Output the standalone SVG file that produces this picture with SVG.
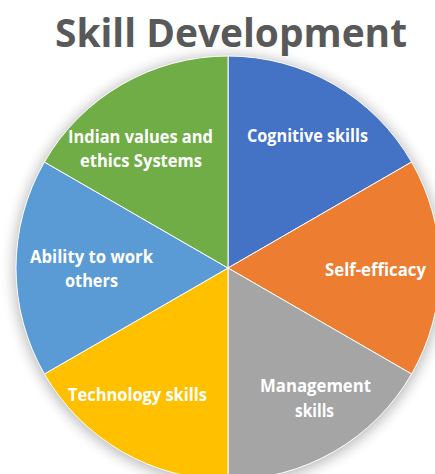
<svg xmlns="http://www.w3.org/2000/svg" width="435" height="474" viewBox="0 0 435 474">
  <defs>
    <filter id="glow" x="-20%" y="-20%" width="140%" height="140%">
      <feGaussianBlur stdDeviation="7"/>
    </filter>
    <style>
      .title { font-family: "Open Sans", "Liberation Sans", sans-serif; font-weight: bold; font-size: 40px; fill: #595959; }
      .lbl { font-family: "Open Sans", "Liberation Sans", sans-serif; font-weight: bold; font-size: 17.5px; fill: #ffffff; text-anchor: middle; }
      .slice { stroke: #ffffff; stroke-width: 1; }
    </style>
  </defs>
  <rect x="0" y="0" width="435" height="474" fill="#ffffff"/>
  <text class="title" x="55" y="47" textLength="352" lengthAdjust="spacingAndGlyphs">Skill Development</text>
  <circle cx="228" cy="270" r="214" fill="#000000" opacity="0.28" filter="url(#glow)"/>
  <g id="node-cognitive">
    <path class="slice" fill="#4472C4" d="M228,268 L228,56 A212,212 0 0 1 411.6,162 Z"/>
    <text class="lbl" x="307.5" y="142" textLength="121" lengthAdjust="spacingAndGlyphs">Cognitive skills</text>
  </g>
  <g id="node-selfefficacy">
    <path class="slice" fill="#ED7D31" d="M228,268 L411.6,162 A212,212 0 0 1 411.6,374 Z"/>
    <text class="lbl" x="375.5" y="276" textLength="101" lengthAdjust="spacingAndGlyphs">Self-efficacy</text>
  </g>
  <g id="node-management">
    <path class="slice" fill="#A5A5A5" d="M228,268 L411.6,374 A212,212 0 0 1 228,480 Z"/>
    <text class="lbl" x="315.5" y="392" textLength="111" lengthAdjust="spacingAndGlyphs">Management</text>
    <text class="lbl" x="314.5" y="417" textLength="39" lengthAdjust="spacingAndGlyphs">skills</text>
  </g>
  <g id="node-technology">
    <path class="slice" fill="#FFC000" d="M228,268 L228,480 A212,212 0 0 1 44.4,374 Z"/>
    <text class="lbl" x="137.5" y="401" textLength="139" lengthAdjust="spacingAndGlyphs">Technology skills</text>
  </g>
  <g id="node-ability">
    <path class="slice" fill="#5B9BD5" d="M228,268 L44.4,374 A212,212 0 0 1 44.4,162 Z"/>
    <text class="lbl" x="91.5" y="263" textLength="123" lengthAdjust="spacingAndGlyphs">Ability to work</text>
    <text class="lbl" x="91.5" y="287" textLength="53" lengthAdjust="spacingAndGlyphs">others</text>
  </g>
  <g id="node-indian">
    <path class="slice" fill="#70AD47" d="M228,268 L44.4,162 A212,212 0 0 1 228,56 Z"/>
    <text class="lbl" x="140.5" y="143" textLength="145" lengthAdjust="spacingAndGlyphs">Indian values and</text>
    <text class="lbl" x="141" y="167" textLength="122" lengthAdjust="spacingAndGlyphs">ethics Systems</text>
  </g>
  <g id="connectors"/>
</svg>
